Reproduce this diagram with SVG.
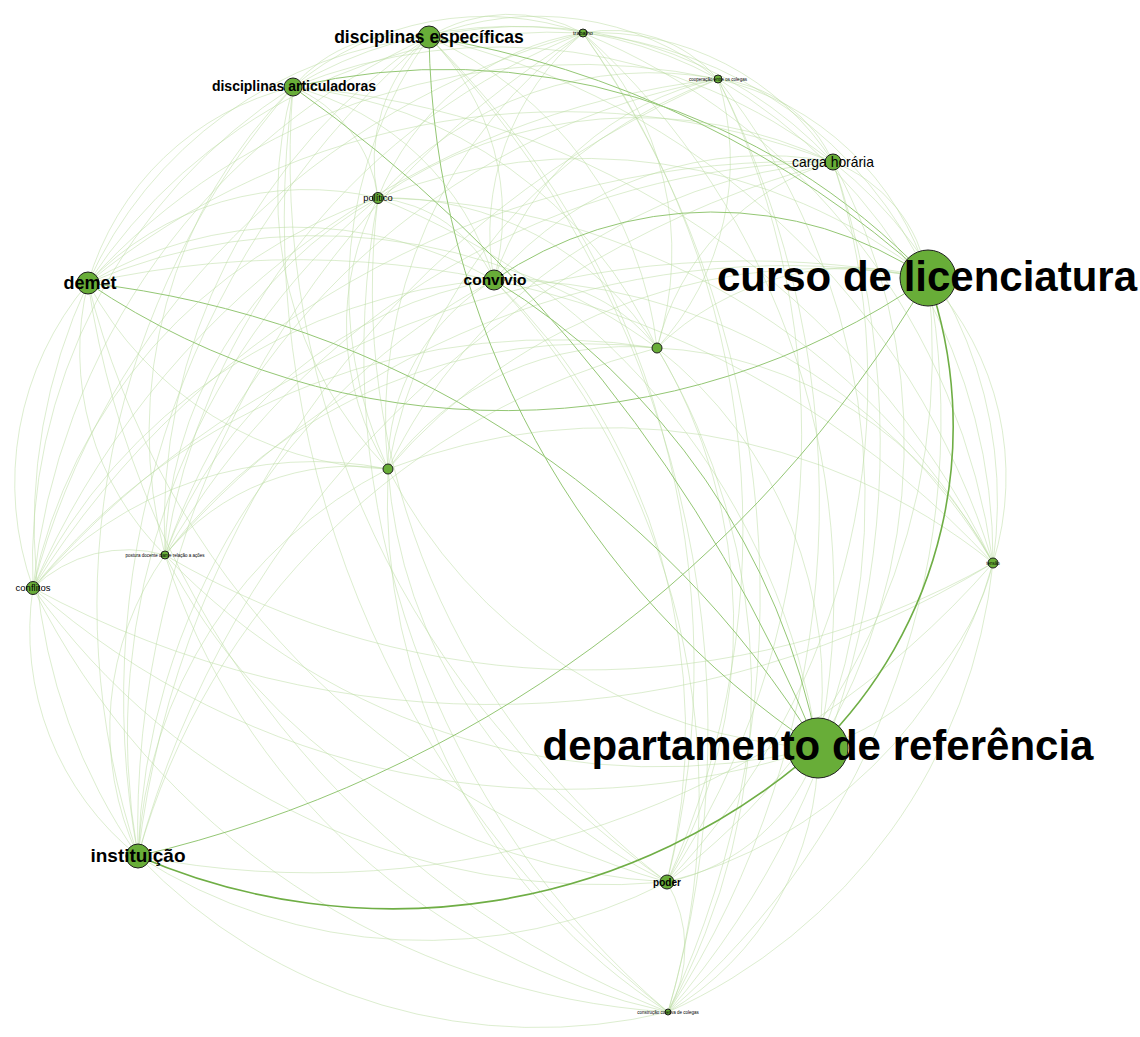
<svg xmlns="http://www.w3.org/2000/svg" width="1140" height="1037" viewBox="0 0 1140 1037">
<style>
.e1{fill:none;stroke:#b9dca0;stroke-width:0.6;stroke-opacity:0.85}
.e2{fill:none;stroke:#94c774;stroke-width:1}
.e3{fill:none;stroke:#6fae45;stroke-width:1.6}
.n{fill:#68ad38;stroke:#1e1e1e;stroke-width:1}
.t{font-family:"Liberation Sans",Arial,sans-serif;fill:#000;text-anchor:middle}
.b{font-weight:bold}
</style>
<rect width="1140" height="1037" fill="#fff"/>
<g id="connectors">
<path class="e1" d="M429 37A154 154 0 0 1 583 33"/>
<path class="e1" d="M429 37A292 292 0 0 1 718 79"/>
<path class="e1" d="M293 87A145 145 0 0 1 429 37"/>
<path class="e1" d="M429 37A423 423 0 0 1 833 162"/>
<path class="e1" d="M378 198A169 169 0 0 1 429 37"/>
<path class="e1" d="M88 283A420 420 0 0 1 429 37"/>
<path class="e1" d="M429 37A252 252 0 0 1 494 280"/>
<path class="e1" d="M429 37A386 386 0 0 1 657 348"/>
<path class="e1" d="M388 469A434 434 0 0 1 429 37"/>
<path class="e1" d="M165 555A581 581 0 0 1 429 37"/>
<path class="e1" d="M33 588A679 679 0 0 1 429 37"/>
<path class="e1" d="M429 37A771 771 0 0 1 993 563"/>
<path class="e1" d="M138 856A869 869 0 0 1 429 37"/>
<path class="e1" d="M429 37A878 878 0 0 1 667 882"/>
<path class="e1" d="M429 37A1004 1004 0 0 1 668 1012"/>
<path class="e1" d="M583 33A143 143 0 0 1 718 79"/>
<path class="e1" d="M293 87A297 297 0 0 1 583 33"/>
<path class="e1" d="M583 33A280 280 0 0 1 833 162"/>
<path class="e1" d="M378 198A263 263 0 0 1 583 33"/>
<path class="e1" d="M88 283A555 555 0 0 1 583 33"/>
<path class="e1" d="M494 280A262 262 0 0 1 583 33"/>
<path class="e1" d="M583 33A423 423 0 0 1 928 278"/>
<path class="e1" d="M583 33A315 315 0 0 1 657 348"/>
<path class="e1" d="M388 469A477 477 0 0 1 583 33"/>
<path class="e1" d="M165 555A669 669 0 0 1 583 33"/>
<path class="e1" d="M33 588A781 781 0 0 1 583 33"/>
<path class="e1" d="M583 33A670 670 0 0 1 993 563"/>
<path class="e1" d="M583 33A753 753 0 0 1 818 748"/>
<path class="e1" d="M138 856A936 936 0 0 1 583 33"/>
<path class="e1" d="M583 33A853 853 0 0 1 667 882"/>
<path class="e1" d="M583 33A984 984 0 0 1 668 1012"/>
<path class="e1" d="M293 87A427 427 0 0 1 718 79"/>
<path class="e1" d="M718 79A142 142 0 0 1 833 162"/>
<path class="e1" d="M378 198A360 360 0 0 1 718 79"/>
<path class="e1" d="M88 283A662 662 0 0 1 718 79"/>
<path class="e1" d="M494 280A301 301 0 0 1 718 79"/>
<path class="e1" d="M718 79A289 289 0 0 1 928 278"/>
<path class="e1" d="M718 79A276 276 0 0 1 657 348"/>
<path class="e1" d="M388 469A511 511 0 0 1 718 79"/>
<path class="e1" d="M165 555A730 730 0 0 1 718 79"/>
<path class="e1" d="M33 588A853 853 0 0 1 718 79"/>
<path class="e1" d="M718 79A557 557 0 0 1 993 563"/>
<path class="e1" d="M718 79A676 676 0 0 1 818 748"/>
<path class="e1" d="M138 856A970 970 0 0 1 718 79"/>
<path class="e1" d="M718 79A805 805 0 0 1 667 882"/>
<path class="e1" d="M718 79A934 934 0 0 1 668 1012"/>
<path class="e1" d="M293 87A545 545 0 0 1 833 162"/>
<path class="e1" d="M293 87A139 139 0 0 1 378 198"/>
<path class="e1" d="M88 283A283 283 0 0 1 293 87"/>
<path class="e1" d="M293 87A278 278 0 0 1 494 280"/>
<path class="e2" d="M293 87A663 663 0 0 1 928 278"/>
<path class="e1" d="M293 87A448 448 0 0 1 657 348"/>
<path class="e1" d="M388 469A394 394 0 0 1 293 87"/>
<path class="e1" d="M165 555A485 485 0 0 1 293 87"/>
<path class="e1" d="M33 588A564 564 0 0 1 293 87"/>
<path class="e1" d="M293 87A850 850 0 0 1 993 563"/>
<path class="e1" d="M138 856A784 784 0 0 1 293 87"/>
<path class="e1" d="M667 882A882 882 0 0 1 293 87"/>
<path class="e1" d="M668 1012A1010 1010 0 0 1 293 87"/>
<path class="e1" d="M378 198A456 456 0 0 1 833 162"/>
<path class="e1" d="M88 283A746 746 0 0 1 833 162"/>
<path class="e1" d="M494 280A358 358 0 0 1 833 162"/>
<path class="e1" d="M833 162A150 150 0 0 1 928 278"/>
<path class="e1" d="M657 348A256 256 0 0 1 833 162"/>
<path class="e1" d="M388 469A541 541 0 0 1 833 162"/>
<path class="e1" d="M165 555A775 775 0 0 1 833 162"/>
<path class="e1" d="M33 588A906 906 0 0 1 833 162"/>
<path class="e1" d="M833 162A432 432 0 0 1 993 563"/>
<path class="e1" d="M833 162A586 586 0 0 1 818 748"/>
<path class="e1" d="M138 856A982 982 0 0 1 833 162"/>
<path class="e1" d="M833 162A720 720 0 0 1 667 882"/>
<path class="e1" d="M833 162A866 866 0 0 1 668 1012"/>
<path class="e1" d="M88 283A303 303 0 0 1 378 198"/>
<path class="e1" d="M378 198A142 142 0 0 1 494 280"/>
<path class="e1" d="M378 198A555 555 0 0 1 928 278"/>
<path class="e1" d="M378 198A317 317 0 0 1 657 348"/>
<path class="e1" d="M388 469A271 271 0 0 1 378 198"/>
<path class="e1" d="M165 555A416 416 0 0 1 378 198"/>
<path class="e1" d="M33 588A521 521 0 0 1 378 198"/>
<path class="e1" d="M378 198A715 715 0 0 1 993 563"/>
<path class="e1" d="M378 198A704 704 0 0 1 818 748"/>
<path class="e1" d="M138 856A700 700 0 0 1 378 198"/>
<path class="e1" d="M667 882A743 743 0 0 1 378 198"/>
<path class="e1" d="M668 1012A864 864 0 0 1 378 198"/>
<path class="e1" d="M88 283A406 406 0 0 1 494 280"/>
<path class="e1" d="M88 283A573 573 0 0 1 657 348"/>
<path class="e1" d="M388 469A353 353 0 0 1 88 283"/>
<path class="e1" d="M165 555A286 286 0 0 1 88 283"/>
<path class="e1" d="M33 588A310 310 0 0 1 88 283"/>
<path class="e1" d="M88 283A950 950 0 0 1 993 563"/>
<path class="e1" d="M138 856A576 576 0 0 1 88 283"/>
<path class="e1" d="M667 882A833 833 0 0 1 88 283"/>
<path class="e1" d="M668 1012A931 931 0 0 1 88 283"/>
<path class="e1" d="M494 280A178 178 0 0 1 657 348"/>
<path class="e1" d="M388 469A217 217 0 0 1 494 280"/>
<path class="e1" d="M165 555A429 429 0 0 1 494 280"/>
<path class="e1" d="M33 588A555 555 0 0 1 494 280"/>
<path class="e1" d="M494 280A574 574 0 0 1 993 563"/>
<path class="e1" d="M138 856A676 676 0 0 1 494 280"/>
<path class="e1" d="M494 280A626 626 0 0 1 667 882"/>
<path class="e1" d="M494 280A755 755 0 0 1 668 1012"/>
<path class="e1" d="M657 348A280 280 0 0 1 928 278"/>
<path class="e1" d="M388 469A573 573 0 0 1 928 278"/>
<path class="e1" d="M165 555A812 812 0 0 1 928 278"/>
<path class="e1" d="M33 588A947 947 0 0 1 928 278"/>
<path class="e1" d="M928 278A292 292 0 0 1 993 563"/>
<path class="e1" d="M928 278A658 658 0 0 1 667 882"/>
<path class="e1" d="M928 278A779 779 0 0 1 668 1012"/>
<path class="e1" d="M388 469A296 296 0 0 1 657 348"/>
<path class="e1" d="M165 555A534 534 0 0 1 657 348"/>
<path class="e1" d="M33 588A667 667 0 0 1 657 348"/>
<path class="e1" d="M657 348A399 399 0 0 1 993 563"/>
<path class="e1" d="M657 348A431 431 0 0 1 818 748"/>
<path class="e1" d="M138 856A726 726 0 0 1 657 348"/>
<path class="e1" d="M657 348A534 534 0 0 1 667 882"/>
<path class="e1" d="M657 348A664 664 0 0 1 668 1012"/>
<path class="e1" d="M165 555A240 240 0 0 1 388 469"/>
<path class="e1" d="M33 588A375 375 0 0 1 388 469"/>
<path class="e1" d="M388 469A612 612 0 0 1 993 563"/>
<path class="e1" d="M818 748A513 513 0 0 1 388 469"/>
<path class="e1" d="M138 856A461 461 0 0 1 388 469"/>
<path class="e1" d="M667 882A498 498 0 0 1 388 469"/>
<path class="e1" d="M668 1012A611 611 0 0 1 388 469"/>
<path class="e1" d="M33 588A136 136 0 0 1 165 555"/>
<path class="e1" d="M993 563A828 828 0 0 1 165 555"/>
<path class="e1" d="M818 748A681 681 0 0 1 165 555"/>
<path class="e1" d="M138 856A301 301 0 0 1 165 555"/>
<path class="e1" d="M667 882A599 599 0 0 1 165 555"/>
<path class="e1" d="M668 1012A680 680 0 0 1 165 555"/>
<path class="e1" d="M993 563A960 960 0 0 1 33 588"/>
<path class="e1" d="M818 748A801 801 0 0 1 33 588"/>
<path class="e1" d="M138 856A288 288 0 0 1 33 588"/>
<path class="e1" d="M667 882A699 699 0 0 1 33 588"/>
<path class="e1" d="M668 1012A764 764 0 0 1 33 588"/>
<path class="e1" d="M993 563A255 255 0 0 1 818 748"/>
<path class="e1" d="M993 563A904 904 0 0 1 138 856"/>
<path class="e1" d="M993 563A456 456 0 0 1 667 882"/>
<path class="e1" d="M993 563A554 554 0 0 1 668 1012"/>
<path class="e1" d="M818 748A202 202 0 0 1 667 882"/>
<path class="e1" d="M818 748A304 304 0 0 1 668 1012"/>
<path class="e1" d="M667 882A530 530 0 0 1 138 856"/>
<path class="e1" d="M668 1012A552 552 0 0 1 138 856"/>
<path class="e1" d="M667 882A130 130 0 0 1 668 1012"/>
<path class="e2" d="M928 278A1248 1248 0 0 1 138 856"/>
<path class="e2" d="M494 280A385 385 0 0 1 928 278"/>
<path class="e2" d="M494 280A704 704 0 0 1 818 748"/>
<path class="e2" d="M818 748A870 870 0 0 1 429 37"/>
<path class="e2" d="M429 37A979 979 0 0 1 928 278"/>
<path class="e2" d="M293 87A1514 1514 0 0 1 818 748"/>
<path class="e2" d="M88 283A987 987 0 0 1 818 748"/>
<path class="e2" d="M928 278A743 743 0 0 1 88 283"/>
<path class="e3" d="M818 748A642 642 0 0 1 138 856"/>
<path class="e3" d="M928 278A450 450 0 0 1 818 748"/>
</g>
<g id="node-disciplinas-especificas"><circle class="n" cx="429" cy="37" r="11"/><text class="t b" x="429" y="43" font-size="17.5">disciplinas específicas</text></g>
<g id="node-trabalho"><circle class="n" cx="583" cy="33" r="4"/><text class="t" x="583" y="35" font-size="5.5">trabalho</text></g>
<g id="node-cooperacao"><circle class="n" cx="718" cy="79" r="4"/><text class="t" x="718" y="81" font-size="4.5">cooperação entre os colegas</text></g>
<g id="node-disciplinas-articuladoras"><circle class="n" cx="293" cy="87" r="9"/><text class="t b" x="294" y="91" font-size="14">disciplinas articuladoras</text></g>
<g id="node-carga-horaria"><circle class="n" cx="833" cy="162" r="8"/><text class="t" x="833" y="167" font-size="13.9">carga horária</text></g>
<g id="node-politico"><circle class="n" cx="378" cy="198" r="5.5"/><text class="t" x="378" y="201" font-size="9.3">político</text></g>
<g id="node-demet"><circle class="n" cx="88" cy="283" r="11"/><text class="t b" x="90" y="289" font-size="18">demet</text></g>
<g id="node-convivio"><circle class="n" cx="494" cy="280" r="10"/><text class="t b" x="495" y="285" font-size="15.5">convivio</text></g>
<g id="node-curso"><circle class="n" cx="928" cy="278" r="28"/><text class="t b" x="927" y="291" font-size="42">curso de licenciatura</text></g>
<g id="node-j"><circle class="n" cx="657" cy="348" r="5"/></g>
<g id="node-k"><circle class="n" cx="388" cy="469" r="5"/></g>
<g id="node-postura"><circle class="n" cx="165" cy="555" r="4"/><text class="t" x="165" y="557" font-size="4.5">postura docente diante relação a ações</text></g>
<g id="node-conflitos"><circle class="n" cx="33" cy="588" r="6.5"/><text class="t" x="33" y="591" font-size="9.5">conflitos</text></g>
<g id="node-tensao"><circle class="n" cx="993" cy="563" r="5"/><text class="t" x="993" y="565" font-size="4.5">tensão</text></g>
<g id="node-departamento"><circle class="n" cx="818" cy="748" r="30"/><text class="t b" x="818" y="760" font-size="42">departamento de referência</text></g>
<g id="node-instituicao"><circle class="n" cx="138" cy="856" r="12"/><text class="t b" x="138" y="862" font-size="19">instituição</text></g>
<g id="node-poder"><circle class="n" cx="667" cy="882" r="7"/><text class="t b" x="667" y="886" font-size="10">poder</text></g>
<g id="node-construcao"><circle class="n" cx="668" cy="1012" r="3"/><text class="t" x="668" y="1014" font-size="4.5">construção coletiva de colegas</text></g>
</svg>
